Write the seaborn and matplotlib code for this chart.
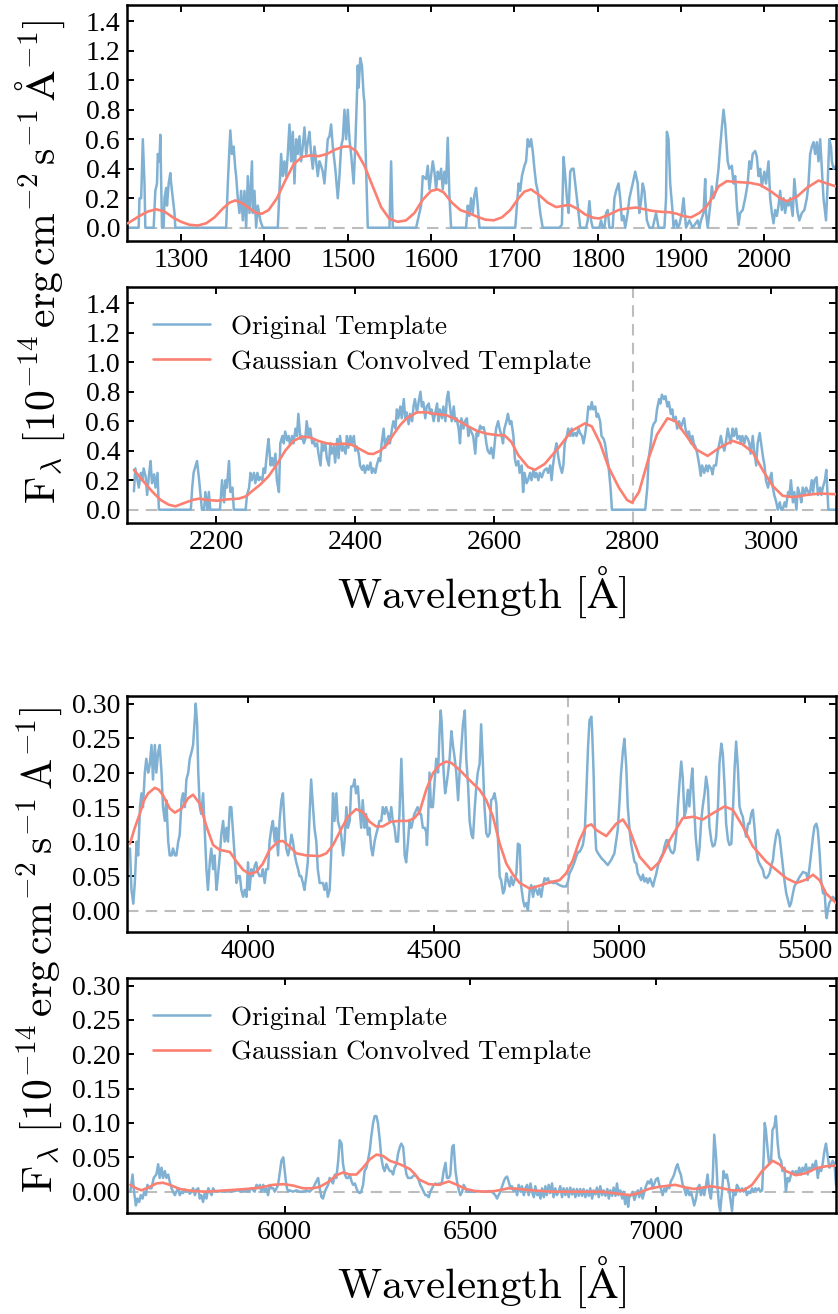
import matplotlib
matplotlib.use("Agg")
import matplotlib.pyplot as plt
import seaborn as sns

# ---------------- data ----------------
# Panel 1 : original template
P1_WAVE = [1236,1249,1250,1252,1254,1256,1257,1267,1269,1271,1272,1274,1275,1276,1277,1279,1280,1282,1283,1285,
           1287,1288,1290,1292,1293,1354,1356,1359,1361,1363,1365,1366,1368,1370,1372,1374,1376,1378,1380,1382,
           1385,1386,1388,1390,1392,1395,1398,1416,1420,1422,1424,1426,1428,1430,1432,1434,1436,1438,1440,1442,
           1444,1446,1448,1450,1452,1454,1456,1458,1460,1462,1464,1466,1468,1470,1472,1474,1476,1478,1480,1482,
           1485,1488,1490,1492,1494,1496,1498,1500,1502,1504,1507,1509,1511,1512,1513,1515,1517,1519,1520,1521,
           1524,1550,1552,1554,1582,1584,1588,1590,1594,1596,1598,1602,1604,1606,1608,1610,1612,1614,1616,1618,
           1620,1622,1624,1642,1644,1646,1648,1650,1652,1654,1656,1658,1701,1705,1707,1709,1712,1714,1716,1718,
           1720,1722,1724,1726,1728,1731,1734,1754,1757,1759,1761,1763,1765,1767,1769,1771,1773,1775,1777,1779,
           1786,1788,1790,1792,1794,1802,1804,1806,1808,1810,1812,1814,1818,1820,1822,1825,1827,1829,1831,1833,
           1836,1838,1840,1842,1845,1848,1850,1852,1854,1856,1859,1862,1866,1868,1870,1873,1880,1882,1883,1885,
           1887,1890,1891,1894,1896,1898,1901,1903,1906,1910,1914,1920,1922,1924,1927,1929,1930,1932,1935,1937,
           1939,1942,1945,1947,1949,1951,1953,1956,1958,1961,1963,1965,1967,1969,1971,1974,1977,1980,1982,1984,
           1986,1989,1991,1993,1995,1997,2000,2002,2005,2007,2009,2011,2013,2015,2017,2019,2021,2023,2025,2027,
           2029,2031,2034,2036,2038,2040,2042,2045,2048,2051,2053,2055,2057,2059,2061,2063,2065,2067,2069,2071,
           2074,2076,2078,2080,2081,2083,2086]
P1_FLUX = [0,0,0.2,0.2,0.6,0.3,0,0,0.25,0.3,0.5,0.45,0.63,0.3,0,0,0.2,0.27,0.15,0.3,
           0.37,0.3,0.2,0.1,0,0,0.3,0.66,0.5,0.55,0.4,0.35,0.2,0.1,0.25,0.05,0.25,0,0.35,0.1,
           0.45,0.1,0.25,0,0.15,0.05,0,0,0.5,0.35,0.45,0.35,0.5,0.7,0.45,0.65,0.3,0.6,0.5,0.62,
           0.45,0.55,0.68,0.5,0.58,0.65,0.5,0.4,0.55,0.45,0.35,0.45,0.42,0.38,0.3,0.45,0.6,0.62,0.7,0.55,
           0.4,0.2,0.35,0.55,0.6,0.8,0.6,0.8,0.6,0.5,0.3,0.55,0.9,1.1,0.95,1.15,1.1,0.9,0.85,0.6,
           0,0,0.45,0,0,0.05,0.15,0.35,0.33,0.42,0.26,0.45,0.38,0.26,0.38,0.33,0.4,0.26,0.38,0.3,
           0.61,0.22,0,0,0.15,0.08,0.2,0.1,0.22,0.27,0.15,0,0,0.3,0.25,0.35,0.42,0.45,0.6,0.55,
           0.6,0.52,0.4,0.3,0.25,0.1,0,0,0.02,0.48,0.35,0.2,0.1,0.38,0.4,0.4,0.3,0.2,0.1,0,
           0,0.05,0.18,0.05,0,0,0.05,0,0,0.1,0.12,0,0,0.2,0.25,0.3,0.2,0.05,0.08,0,
           0.1,0.2,0.25,0.3,0.38,0.3,0.1,0.18,0.3,0.25,0.05,0,0,0.05,0.1,0,0,0.2,0.65,0.6,
           0.3,0.1,0,0.05,0,0.02,0.1,0.2,0,0.05,0,0.05,0,0.05,0.1,0.33,0.1,0,0.15,0.28,
           0.2,0.25,0.4,0.55,0.68,0.8,0.7,0.45,0.4,0.42,0.3,0.35,0.15,0.02,0.1,0.12,0.2,0.3,0.45,0.4,
           0.5,0.52,0.48,0.35,0.4,0.28,0.38,0.3,0.45,0.2,0.1,0.03,0.12,0.08,0.15,0.25,0.12,0.2,0.1,0.18,
           0.15,0.2,0.08,0.33,0.2,0.1,0.05,0.1,0.12,0.2,0.3,0.5,0.55,0.58,0.5,0.58,0.45,0.6,0.4,0.2,
           0.05,0.3,0.6,0.55,0.45,0.4,0.42]
# Panel 1 : Gaussian convolved template
P1_CONV_WAVE = [1236,1250,1260,1270,1280,1290,1300,1310,1320,1330,1340,1350,1358,1365,1372,1380,1390,1397,1405,1415,
                1425,1435,1445,1455,1465,1475,1485,1495,1502,1510,1520,1530,1540,1550,1560,1570,1580,1590,1600,1608,
                1615,1625,1635,1645,1655,1665,1675,1685,1695,1705,1712,1720,1730,1740,1750,1760,1766,1775,1785,1795,
                1802,1814,1825,1835,1846,1856,1866,1876,1886,1895,1902,1912,1922,1930,1935,1945,1955,1967,1983,1995,
                2007,2019,2027,2039,2051,2065,2075,2086]
P1_CONV_FLUX = [0.03,0.08,0.11,0.125,0.11,0.07,0.04,0.02,0.015,0.03,0.07,0.13,0.17,0.185,0.17,0.14,0.1,0.095,0.12,0.2,
                0.32,0.43,0.48,0.49,0.485,0.5,0.53,0.55,0.55,0.52,0.42,0.28,0.14,0.06,0.04,0.05,0.1,0.19,0.25,0.26,
                0.24,0.17,0.12,0.1,0.075,0.055,0.05,0.07,0.12,0.2,0.245,0.26,0.22,0.17,0.14,0.15,0.155,0.13,0.09,0.067,
                0.063,0.09,0.12,0.13,0.137,0.125,0.114,0.108,0.105,0.095,0.08,0.07,0.1,0.14,0.18,0.28,0.316,0.31,0.304,0.29,
                0.25,0.2,0.18,0.21,0.27,0.32,0.3,0.28]

# Panel 2 : original template
P2_WAVE = [2081,2083,2086,2088,2091,2093,2095,2098,2100,2103,2105,2107,2110,2112,2115,2117,2163,2165,2167,2170,
           2172,2175,2177,2179,2182,2184,2187,2189,2191,2205,2208,2211,2213,2215,2218,2220,2223,2225,2242,2244,
           2247,2249,2251,2254,2256,2259,2261,2263,2266,2268,2270,2273,2275,2278,2280,2282,2285,2287,2290,2292,
           2295,2297,2299,2302,2304,2306,2309,2311,2314,2316,2318,2321,2323,2326,2328,2330,2333,2335,2338,2340,
           2342,2345,2347,2350,2352,2354,2357,2359,2362,2364,2366,2369,2371,2374,2376,2378,2381,2383,2386,2388,
           2390,2393,2395,2398,2400,2402,2405,2407,2410,2412,2414,2417,2419,2422,2424,2426,2429,2431,2434,2436,
           2438,2441,2443,2446,2448,2450,2453,2455,2458,2460,2462,2465,2467,2470,2472,2474,2477,2479,2482,2484,
           2486,2489,2491,2494,2496,2498,2501,2503,2506,2508,2510,2513,2515,2518,2520,2522,2525,2527,2530,2532,
           2534,2537,2539,2542,2544,2546,2549,2551,2553,2556,2558,2561,2563,2565,2570,2573,2575,2577,2580,2582,
           2585,2587,2589,2591,2594,2596,2599,2601,2603,2606,2608,2611,2613,2615,2618,2620,2623,2625,2628,2630,
           2632,2635,2637,2640,2642,2644,2647,2649,2652,2654,2657,2659,2661,2664,2666,2669,2671,2673,2676,2678,
           2681,2683,2685,2688,2690,2693,2695,2698,2700,2702,2705,2707,2710,2712,2714,2717,2719,2722,2724,2727,
           2729,2731,2734,2736,2739,2741,2743,2746,2748,2750,2753,2755,2758,2760,2763,2765,2768,2770,2818,2821,
           2823,2826,2828,2830,2833,2835,2838,2840,2842,2845,2847,2850,2852,2855,2857,2859,2862,2864,2867,2869,
           2871,2874,2876,2879,2881,2884,2886,2888,2891,2893,2896,2898,2900,2903,2906,2908,2910,2913,2915,2917,
           2920,2922,2925,2927,2929,2932,2934,2937,2939,2941,2944,2946,2949,2951,2954,2956,2958,2961,2963,2966,
           2968,2970,2973,2975,2978,2980,2983,2985,2988,2990,2992,2995,2997,3000,3002,3004,3007,3009,3012,3014,
           3016,3019,3021,3024,3026,3028,3031,3033,3036,3038,3041,3043,3045,3048,3050,3053,3055,3058,3060,3062,
           3065,3067,3070,3072,3074,3077,3079,3082,3093]
P2_FLUX = [0.125,0.28,0.2,0.15,0.25,0.2,0.28,0.22,0.1,0.25,0.33,0.18,0.24,0.15,0.25,0,0,0.15,0.25,0.3,
           0.33,0.2,0.1,0,0,0.12,0,0.12,0,0,0.2,0.05,0.2,0.15,0.33,0.12,0.15,0,0,0.1,
           0.15,0.25,0.2,0.25,0.18,0.25,0.2,0.22,0.2,0.28,0.25,0.4,0.48,0.3,0.35,0.3,0.38,0.2,0.12,0.45,
           0.5,0.45,0.53,0.47,0.5,0.44,0.5,0.45,0.55,0.5,0.65,0.48,0.5,0.45,0.48,0.6,0.5,0.55,0.45,0.48,
           0.43,0.45,0.38,0.3,0.45,0.4,0.45,0.35,0.3,0.45,0.38,0.43,0.32,0.48,0.35,0.5,0.4,0.43,0.38,0.5,
           0.42,0.5,0.45,0.5,0.4,0.43,0.38,0.3,0.27,0.3,0.25,0.3,0.27,0.32,0.25,0.28,0.25,0.3,0.35,0.33,
           0.45,0.55,0.42,0.48,0.5,0.45,0.55,0.6,0.55,0.68,0.62,0.7,0.62,0.75,0.62,0.66,0.58,0.65,0.6,0.7,
           0.75,0.66,0.72,0.8,0.7,0.73,0.62,0.7,0.72,0.65,0.68,0.6,0.65,0.72,0.6,0.68,0.62,0.7,0.6,0.75,
           0.8,0.68,0.6,0.7,0.6,0.62,0.55,0.45,0.62,0.55,0.6,0.62,0.5,0.55,0.5,0.38,0.52,0.5,0.57,0.55,
           0.56,0.52,0.45,0.4,0.38,0.42,0.35,0.45,0.55,0.6,0.55,0.5,0.45,0.55,0.6,0.65,0.58,0.6,0.5,0.35,
           0.3,0.33,0.25,0.3,0.12,0.25,0.18,0.2,0.25,0.2,0.27,0.22,0.25,0.2,0.25,0.22,0.25,0.27,0.28,0.25,
           0.3,0.2,0.3,0.4,0.45,0.35,0.3,0.25,0.3,0.45,0.5,0.55,0.5,0.55,0.5,0.52,0.5,0.55,0.52,0.5,
           0.45,0.5,0.6,0.7,0.68,0.73,0.68,0.7,0.63,0.65,0.6,0.5,0.48,0.45,0.35,0.3,0.15,0,0,0.15,
           0.35,0.45,0.55,0.58,0.6,0.68,0.75,0.72,0.78,0.75,0.77,0.7,0.73,0.65,0.68,0.6,0.63,0.55,0.6,0.55,
           0.58,0.62,0.55,0.5,0.53,0.45,0.5,0.45,0.42,0.38,0.3,0.23,0.3,0.25,0.3,0.26,0.3,0.28,0.24,0.3,
           0.3,0.38,0.45,0.5,0.45,0.4,0.45,0.55,0.5,0.45,0.55,0.5,0.55,0.48,0.5,0.45,0.5,0.45,0.5,0.48,
           0.45,0.38,0.5,0.4,0.3,0.45,0.52,0.45,0.35,0.3,0.2,0.15,0.2,0.25,0.15,0.1,0.05,0,0.05,0,
           0,0.05,0.02,0.12,0.1,0.2,0.05,0.12,0,0.15,0.1,0.05,0.15,0.1,0.15,0.12,0.1,0.2,0.12,0.2,
           0.22,0.1,0.15,0.1,0.15,0.2,0.27,0,0]
# Panel 2 : Gaussian convolved template
P2_CONV_WAVE = [2081,2095,2107,2119,2131,2141,2153,2167,2175,2187,2201,2215,2232,2242,2251,2263,2275,2287,2299,2311,
                2323,2335,2347,2359,2371,2383,2395,2407,2419,2426,2436,2446,2455,2465,2474,2489,2503,2518,2532,2546,
                2561,2575,2590,2606,2615,2625,2635,2649,2659,2673,2693,2712,2731,2741,2753,2765,2780,2792,2799,2809,
                2823,2835,2850,2862,2876,2891,2908,2925,2944,2958,2973,2988,3002,3016,3031,3050,3070,3093]
P2_CONV_FLUX = [0.27,0.19,0.125,0.068,0.034,0.023,0.045,0.068,0.075,0.066,0.061,0.07,0.075,0.09,0.125,0.17,0.227,0.307,0.4,0.466,
                0.495,0.49,0.466,0.45,0.443,0.448,0.44,0.41,0.38,0.378,0.4,0.443,0.51,0.575,0.62,0.66,0.66,0.648,0.64,0.61,
                0.57,0.535,0.515,0.505,0.505,0.46,0.37,0.29,0.27,0.31,0.42,0.535,0.585,0.565,0.45,0.29,0.15,0.065,0.048,0.12,
                0.35,0.51,0.62,0.6,0.51,0.41,0.365,0.42,0.467,0.444,0.39,0.263,0.16,0.095,0.085,0.1,0.11,0.105]

# Panel 3 : original template
P3_WAVE = [3682,3686,3691,3695,3700,3704,3709,3713,3717,3722,3726,3731,3735,3740,3744,3749,3753,3758,3762,3767,
           3771,3776,3780,3785,3789,3794,3798,3803,3807,3812,3816,3821,3825,3830,3834,3839,3843,3848,3852,3857,
           3859,3863,3866,3870,3874,3879,3883,3888,3892,3897,3901,3906,3910,3915,3919,3924,3928,3933,3937,3942,
           3946,3951,3955,3960,3964,3969,3973,3978,3982,3987,3991,3996,4000,4004,4009,4013,4018,4022,4027,4031,
           4036,4040,4045,4049,4054,4058,4063,4067,4072,4076,4081,4085,4090,4094,4099,4103,4108,4112,4117,4121,
           4126,4130,4135,4139,4143,4148,4152,4157,4161,4166,4170,4175,4179,4184,4188,4193,4197,4202,4206,4211,
           4215,4220,4224,4229,4233,4238,4242,4247,4251,4256,4260,4265,4269,4274,4278,4283,4287,4291,4296,4300,
           4305,4309,4314,4318,4323,4327,4332,4336,4341,4345,4350,4354,4359,4363,4368,4372,4377,4381,4386,4390,
           4395,4399,4404,4408,4413,4417,4422,4426,4431,4435,4440,4448,4457,4462,4466,4471,4476,4480,4482,4485,
           4489,4493,4498,4503,4507,4512,4516,4519,4522,4527,4531,4534,4539,4543,4548,4552,4557,4561,4566,4570,
           4575,4579,4584,4588,4593,4597,4602,4606,4611,4615,4619,4624,4628,4633,4637,4642,4646,4651,4655,4660,
           4664,4669,4673,4678,4682,4687,4691,4696,4700,4705,4709,4714,4718,4723,4727,4732,4736,4741,4745,4750,
           4754,4759,4763,4768,4772,4776,4781,4785,4790,4794,4799,4803,4808,4812,4817,4821,4830,4839,4848,4857,
           4862,4866,4871,4875,4880,4884,4889,4893,4898,4902,4907,4911,4916,4920,4925,4927,4931,4934,4938,4943,
           4952,4961,4969,4978,4987,4996,5001,5005,5010,5014,5019,5023,5028,5032,5037,5041,5046,5050,5055,5059,
           5064,5068,5073,5077,5082,5086,5091,5095,5100,5104,5109,5113,5118,5122,5127,5131,5136,5140,5145,5149,
           5154,5158,5163,5167,5171,5176,5180,5185,5189,5194,5197,5200,5206,5212,5216,5221,5225,5230,5234,5239,
           5243,5248,5252,5257,5261,5266,5270,5275,5279,5284,5288,5293,5297,5302,5306,5311,5315,5320,5324,5329,
           5333,5338,5342,5347,5351,5356,5360,5365,5369,5374,5378,5382,5387,5391,5396,5400,5405,5409,5414,5418,
           5423,5427,5432,5436,5441,5445,5450,5459,5463,5468,5472,5477,5486,5495,5504,5508,5513,5517,5522,5526,
           5531,5535,5540,5544,5549,5553,5557,5559,5562,5566,5575,5584]
P3_FLUX = [0.09,0.03,0.01,0.04,0.1,0.08,0.15,0.17,0.15,0.2,0.22,0.2,0.21,0.24,0.19,0.24,0.2,0.23,0.24,0.2,
           0.15,0.13,0.16,0.1,0.08,0.08,0.09,0.08,0.08,0.1,0.11,0.16,0.17,0.15,0.19,0.2,0.22,0.23,0.24,0.28,
           0.3,0.27,0.2,0.15,0.14,0.17,0.12,0.06,0.03,0.07,0.09,0.06,0.08,0.03,0.05,0.08,0.11,0.13,0.1,0.12,
           0.1,0.15,0.15,0.11,0.08,0.04,0.05,0.05,0.03,0.02,0.03,0.02,0.07,0.03,0.06,0.05,0.065,0.07,0.055,0.05,
           0.05,0.06,0.04,0.06,0.06,0.1,0.12,0.13,0.1,0.12,0.08,0.13,0.16,0.17,0.12,0.09,0.08,0.09,0.11,0.1,
           0.08,0.07,0.06,0.05,0.05,0.04,0.03,0.05,0.07,0.14,0.19,0.15,0.12,0.1,0.06,0.04,0.04,0.04,0.03,0.04,
           0.02,0.03,0.08,0.17,0.13,0.17,0.13,0.12,0.11,0.08,0.1,0.15,0.12,0.13,0.18,0.18,0.19,0.17,0.18,0.15,
           0.12,0.16,0.12,0.14,0.11,0.12,0.09,0.08,0.1,0.11,0.12,0.13,0.13,0.15,0.14,0.15,0.14,0.13,0.15,0.13,
           0.12,0.1,0.1,0.14,0.22,0.16,0.08,0.07,0.1,0.13,0.12,0.14,0.15,0.14,0.14,0.12,0.12,0.114,0.095,0.13,
           0.2,0.15,0.15,0.19,0.22,0.2,0.26,0.29,0.27,0.2,0.17,0.18,0.2,0.22,0.26,0.24,0.22,0.2,0.16,0.2,
           0.24,0.27,0.29,0.22,0.18,0.13,0.11,0.105,0.15,0.18,0.2,0.213,0.27,0.21,0.151,0.112,0.107,0.112,0.16,0.163,
           0.17,0.155,0.107,0.049,0.044,0.025,0.03,0.054,0.044,0.035,0.049,0.037,0.044,0.054,0.097,0.095,0.035,0.015,0.006,0.011,
           0.001,0.03,0.037,0.02,0.035,0.03,0.023,0.032,0.02,0.035,0.047,0.044,0.047,0.04,0.042,0.04,0.04,0.037,0.035,0.035,
           0.042,0.054,0.059,0.064,0.071,0.078,0.085,0.085,0.09,0.095,0.112,0.165,0.237,0.276,0.281,0.261,0.199,0.126,0.088,0.083,
           0.076,0.071,0.066,0.073,0.083,0.117,0.16,0.199,0.232,0.249,0.208,0.151,0.117,0.097,0.083,0.071,0.068,0.054,0.049,0.044,
           0.052,0.042,0.047,0.04,0.047,0.042,0.035,0.044,0.054,0.064,0.073,0.078,0.083,0.093,0.102,0.102,0.09,0.085,0.083,0.088,
           0.112,0.151,0.189,0.216,0.194,0.136,0.146,0.175,0.151,0.189,0.206,0.17,0.107,0.073,0.088,0.131,0.151,0.17,0.194,0.175,
           0.122,0.102,0.093,0.095,0.107,0.151,0.213,0.242,0.228,0.179,0.126,0.102,0.095,0.097,0.141,0.208,0.245,0.204,0.151,0.141,
           0.136,0.117,0.107,0.126,0.126,0.141,0.146,0.117,0.088,0.073,0.068,0.064,0.059,0.049,0.047,0.049,0.054,0.064,0.073,0.093,
           0.11,0.117,0.107,0.088,0.064,0.044,0.025,0.006,0.011,0.025,0.035,0.04,0.049,0.056,0.054,0.044,0.064,0.083,0.107,0.122,
           0.126,0.117,0.083,0.044,0.025,0.03,-0.004,-0.011,0.001,0.011,0.02,0.015]
# Panel 3 : Gaussian convolved template
P3_CONV_WAVE = [3682,3695,3709,3720,3731,3749,3760,3771,3789,3803,3821,3839,3852,3870,3888,3906,3924,3951,3969,3987,
                4004,4022,4040,4058,4081,4094,4112,4130,4157,4193,4211,4229,4247,4269,4291,4309,4327,4345,4363,4386,
                4408,4431,4448,4462,4480,4498,4516,4534,4548,4570,4597,4624,4642,4660,4678,4696,4714,4732,4759,4785,
                4812,4839,4857,4875,4893,4911,4925,4938,4965,4992,5010,5028,5055,5086,5109,5136,5171,5200,5225,5252,
                5284,5306,5333,5360,5396,5423,5450,5477,5504,5522,5540,5557,5584]
P3_CONV_FLUX = [0.097,0.12,0.141,0.16,0.17,0.178,0.175,0.167,0.148,0.142,0.148,0.163,0.168,0.155,0.122,0.095,0.088,0.085,0.071,0.059,
                0.053,0.056,0.068,0.088,0.1,0.101,0.093,0.083,0.08,0.079,0.083,0.095,0.114,0.136,0.147,0.143,0.129,0.122,0.122,0.129,
                0.13,0.13,0.134,0.143,0.175,0.199,0.211,0.216,0.214,0.204,0.189,0.175,0.16,0.136,0.097,0.068,0.052,0.04,0.032,0.036,
                0.041,0.044,0.054,0.073,0.102,0.122,0.125,0.117,0.108,0.126,0.132,0.117,0.078,0.059,0.071,0.102,0.134,0.136,0.132,0.141,
                0.151,0.146,0.122,0.093,0.071,0.059,0.047,0.04,0.045,0.052,0.044,0.025,0.011]

# Panel 4 : original template
P4_WAVE = [5584,5590,5594,5599,5603,5608,5612,5617,5621,5626,5630,5635,5641,5647,5654,5659,5663,5668,5672,5677,
           5681,5686,5690,5695,5699,5704,5708,5713,5717,5722,5726,5731,5735,5740,5744,5749,5753,5758,5762,5767,
           5771,5775,5780,5785,5789,5794,5798,5803,5807,5812,5820,5829,5838,5847,5856,5865,5874,5883,5892,5901,
           5910,5919,5924,5928,5933,5937,5942,5946,5951,5955,5960,5964,5969,5973,5978,5982,5987,5991,5996,5998,
           6003,6006,6009,6013,6022,6031,6040,6049,6058,6067,6076,6085,6090,6094,6099,6103,6108,6112,6117,6121,
           6126,6130,6135,6139,6144,6148,6153,6157,6162,6166,6171,6175,6180,6184,6189,6193,6197,6202,6206,6211,
           6215,6220,6224,6229,6233,6238,6242,6247,6251,6256,6260,6265,6269,6274,6278,6283,6287,6292,6296,6301,
           6305,6310,6314,6319,6323,6328,6332,6341,6350,6359,6365,6370,6374,6379,6383,6388,6392,6397,6401,6406,
           6411,6415,6419,6424,6428,6433,6437,6442,6446,6451,6455,6460,6464,6469,6473,6478,6482,6487,6491,6496,
           6504,6513,6522,6531,6540,6549,6558,6567,6572,6576,6581,6590,6594,6599,6603,6608,6612,6617,6621,6626,
           6630,6635,6639,6644,6648,6653,6657,6662,6666,6671,6675,6680,6684,6689,6693,6698,6702,6706,6711,6715,
           6720,6724,6729,6733,6738,6742,6747,6751,6756,6760,6765,6769,6774,6778,6783,6787,6792,6796,6801,6805,
           6810,6814,6819,6823,6828,6832,6837,6841,6846,6850,6855,6859,6864,6869,6873,6877,6882,6886,6891,6895,
           6899,6904,6909,6913,6917,6922,6925,6928,6933,6937,6942,6946,6951,6955,6960,6964,6969,6973,6978,6982,
           6987,6991,6996,7000,7005,7009,7013,7018,7023,7027,7031,7036,7040,7045,7049,7054,7058,7063,7067,7072,
           7076,7081,7085,7090,7094,7099,7103,7108,7112,7117,7121,7126,7130,7135,7139,7144,7148,7153,7157,7162,
           7166,7170,7173,7178,7182,7187,7191,7196,7200,7205,7209,7214,7218,7223,7227,7232,7236,7241,7245,7250,
           7254,7259,7263,7268,7272,7277,7281,7286,7290,7293,7296,7301,7305,7310,7314,7319,7323,7328,7332,7337,
           7341,7346,7350,7355,7359,7364,7368,7373,7377,7382,7386,7391,7395,7400,7404,7409,7413,7418,7422,7427,
           7431,7436,7440,7445,7449,7454,7458,7463,7467,7472,7476,7481,7485]
P4_FLUX = [0.0,0.025,0.0,-0.02,-0.01,-0.015,-0.005,-0.01,0.0,-0.005,0.01,0.005,0.005,0.02,0.025,0.04,0.02,0.035,0.02,0.03,
           0.02,0.025,0.015,0.005,0.0,-0.005,0.0,0.005,-0.005,0.0,-0.002,0.003,0.0,0.002,-0.003,0.0,0.005,-0.005,0.003,0.005,
           -0.01,-0.005,-0.015,0.0,-0.01,0.005,0.0,-0.005,0.005,0.0,0.0,0.001,0.0,0.002,0.0,0.001,0.002,0.0,0.002,0.0,
           0.005,0.0,0.01,0.005,0.01,0.0,0.01,0.0,0.005,-0.005,0.01,0.005,0.005,0.0,0.005,0.01,0.03,0.045,0.05,0.04,
           0.015,0.005,0.0,0.002,0.0,0.002,0.0,0.0,0.002,0.0,0.005,0.015,0.02,0.005,-0.008,-0.01,0.0,0.005,0.01,0.02,
           0.015,0.012,0.025,0.02,0.045,0.075,0.07,0.04,0.025,0.02,0.02,0.025,0.015,0.01,0.012,0.005,0.0,-0.002,0.0,0.01,
           0.03,0.035,0.045,0.06,0.08,0.1,0.11,0.11,0.1,0.075,0.05,0.035,0.03,0.04,0.035,0.03,0.03,0.025,0.035,0.04,
           0.055,0.065,0.07,0.065,0.04,0.025,0.02,0.02,0.025,0.02,0.01,0.005,0.0,-0.005,-0.005,-0.008,0.0,0.005,0.01,0.012,
           0.01,0.012,0.01,0.015,0.03,0.042,0.02,0.02,0.025,0.065,0.068,0.03,0.015,0.002,-0.005,0.0,0.01,0.005,0.0,0.0,
           0.0,0.0,0.001,0.0,0.0,0.001,0.0,-0.005,-0.01,-0.005,0.0,0.015,0.02,0.022,0.015,0.005,0.008,0.0,0.005,-0.005,
           0.01,0.0,0.008,-0.005,0.005,0.01,-0.005,0.012,0.0,-0.008,0.008,-0.005,0.0,-0.01,0.005,-0.008,0.008,-0.005,0.01,-0.002,
           0.012,-0.008,0.005,-0.005,0.0,0.008,-0.008,0.005,-0.005,0.005,-0.008,0.006,-0.004,0.004,-0.008,0.004,-0.006,0.004,-0.006,0.004,
           -0.008,0.002,-0.006,0.005,-0.01,0.002,-0.004,0.006,-0.008,0.008,-0.005,0.002,-0.006,0.004,-0.01,0.002,-0.006,0.006,-0.006,0.012,
           -0.005,0.002,-0.01,0.0,-0.018,-0.005,-0.022,-0.008,-0.005,0.0,-0.012,-0.005,0.002,-0.008,0.005,-0.01,0.0,0.008,0.015,0.012,
           0.018,0.005,0.012,0.018,0.02,0.01,0.005,-0.005,0.005,0.0,0.008,0.005,0.015,0.02,0.025,0.035,0.04,0.03,0.025,0.01,
           0.005,-0.005,0.005,-0.005,0.0,-0.01,-0.02,-0.01,0.005,0.01,-0.005,0.005,-0.005,0.01,0.025,0.0,-0.01,0.02,0.083,0.05,
           0.005,-0.02,-0.028,0.0,0.03,0.02,0.025,0.01,-0.01,-0.028,0.0,-0.005,0.01,0.005,0.0,0.005,0.0,0.005,-0.005,0.0,
           -0.002,0.005,0.0,0.005,0.002,0.005,0.0,0.002,0.05,0.1,0.09,0.06,0.04,0.045,0.09,0.095,0.11,0.07,0.05,0.045,
           0.03,0.035,0.0,0.02,0.015,0.025,0.03,0.025,0.03,0.025,0.035,0.025,0.035,0.03,0.04,0.025,0.035,0.03,0.04,0.035,
           0.045,0.02,0.035,0.03,0.04,0.06,0.07,0.05,0.035,0.04,0.045,0.04,0.01]
# Panel 4 : Gaussian convolved template
P4_CONV_WAVE = [5584,5600,5614,5632,5654,5672,5690,5717,5753,5789,5843,5897,5933,5969,5996,6022,6049,6076,6094,6117,
                6139,6157,6175,6193,6211,6229,6247,6265,6283,6310,6337,6350,6361,6388,6415,6442,6464,6487,6513,6540,
                6567,6603,6630,6666,6720,6765,6810,6855,6899,6931,6953,6980,7007,7052,7081,7103,7148,7169,7205,7236,
                7259,7286,7314,7332,7350,7377,7404,7431,7458,7485]
P4_CONV_FLUX = [0.01,0.005,0.002,0.006,0.012,0.013,0.01,0.004,0.001,0.0,0.002,0.004,0.006,0.01,0.011,0.009,0.005,0.005,0.007,0.014,
                0.024,0.028,0.025,0.025,0.035,0.047,0.054,0.052,0.045,0.04,0.033,0.026,0.018,0.011,0.01,0.015,0.01,0.004,0.001,0.0,
                0.001,0.005,0.004,0.002,0.0,0.0,0.0,0.0,-0.003,-0.005,-0.002,0.004,0.007,0.01,0.006,0.004,0.008,0.006,0.002,0.002,
                0.01,0.03,0.045,0.04,0.03,0.024,0.027,0.034,0.037,0.038]

LINE_WAVE = {"top": 2800, "bottom": 4861}
XTICKS_TOP1 = [1300, 1400, 1500, 1600, 1700, 1800, 1900, 2000]
XTICKS_TOP2 = [2200, 2400, 2600, 2800, 3000]
XTICKS_BOT1 = [4000, 4500, 5000, 5500]
XTICKS_BOT2 = [6000, 6500, 7000]
YTICKS_TOP = [0.0, 0.2, 0.4, 0.6, 0.8, 1.0, 1.2, 1.4]
YTICKS_BOT = [0.0, 0.05, 0.10, 0.15, 0.20, 0.25, 0.30]
LABEL_ORIG = r"$\mathrm{Original\ Template}$"
LABEL_CONV = r"$\mathrm{Gaussian\ Convolved\ Template}$"
YLABEL_TOP = r"$\mathrm{F_{\lambda}\ [10^{-14}\,erg\,cm^{-2}\,s^{-1}\,\AA^{-1}]}$"
YLABEL_BOT = r"$\mathrm{F_{\lambda}\ [10^{-14}\,erg\,cm^{-2}\,s^{-1}\,A^{-1}]}$"
XLABEL = r"$\mathrm{Wavelength\ [\AA]}$"

# ---------------- style ----------------
sns.set_theme(style="ticks")
plt.rcParams["font.family"] = "serif"
plt.rcParams["font.serif"] = ["Liberation Serif", "DejaVu Serif"]
plt.rcParams.update({
    "mathtext.fontset": "cm",
    "text.color": "black", "axes.labelcolor": "black",
    "xtick.direction": "in", "ytick.direction": "in",
    "xtick.top": True, "ytick.right": True,
    "xtick.major.size": 5, "ytick.major.size": 5,
    "xtick.major.width": 1.4, "ytick.major.width": 1.4,
    "xtick.major.pad": 5, "ytick.major.pad": 5,
    "xtick.labelsize": 20, "ytick.labelsize": 20,
    "axes.linewidth": 1.8, "axes.edgecolor": "black",
    "xtick.color": "black", "ytick.color": "black",
    "legend.labelcolor": "black",
})

BLUE = "#80b1d3"
RED = "#fb8072"
GRAY = "#bdbdbd"
TICKFONT = "Liberation Serif"

W, H = 838, 1314
fig = plt.figure(figsize=(W / 100, H / 100), dpi=100)


def rect(top, bottom, left=127, right=836):
    return [left / W, 1 - bottom / H, (right - left) / W, (bottom - top) / H]


panels = [
    dict(r=rect(5, 241), wave=P1_WAVE, flux=P1_FLUX, cw=P1_CONV_WAVE, cf=P1_CONV_FLUX,
         xlim=(1235, 2086), ylim=(-0.09, 1.51), xt=XTICKS_TOP1, yt=YTICKS_TOP, fmt="{:.1f}", vline=None, legend=False, xlabel=False),
    dict(r=rect(287, 523), wave=P2_WAVE, flux=P2_FLUX, cw=P2_CONV_WAVE, cf=P2_CONV_FLUX,
         xlim=(2071, 3093), ylim=(-0.09, 1.51), xt=XTICKS_TOP2, yt=YTICKS_TOP, fmt="{:.1f}", vline=LINE_WAVE["top"], legend=True, xlabel=True),
    dict(r=rect(696, 932), wave=P3_WAVE, flux=P3_FLUX, cw=P3_CONV_WAVE, cf=P3_CONV_FLUX,
         xlim=(3674, 5584), ylim=(-0.031, 0.311), xt=XTICKS_BOT1, yt=YTICKS_BOT, fmt="{:.2f}", vline=LINE_WAVE["bottom"], legend=False, xlabel=False),
    dict(r=rect(978, 1213), wave=P4_WAVE, flux=P4_FLUX, cw=P4_CONV_WAVE, cf=P4_CONV_FLUX,
         xlim=(5575, 7485), ylim=(-0.031, 0.311), xt=XTICKS_BOT2, yt=YTICKS_BOT, fmt="{:.2f}", vline=None, legend=True, xlabel=True),
]

for p in panels:
    ax = fig.add_axes(p["r"])
    ax.axhline(0, color=GRAY, lw=1.5, dashes=(5.5, 3.5), zorder=1)
    if p["vline"] is not None:
        ax.axvline(p["vline"], color=GRAY, lw=1.5, dashes=(5.5, 3.5), zorder=1)
    sns.lineplot(x=p["wave"], y=p["flux"], ax=ax, color=BLUE, lw=1.8, sort=False, estimator=None,
                 label=LABEL_ORIG if p["legend"] else None, zorder=2)
    sns.lineplot(x=p["cw"], y=p["cf"], ax=ax, color=RED, lw=1.9, sort=False, estimator=None,
                 label=LABEL_CONV if p["legend"] else None, zorder=3)
    ax.set_xlim(*p["xlim"])
    ax.set_ylim(*p["ylim"])
    ax.set_xticks(p["xt"])
    ax.set_xticklabels([str(v) for v in p["xt"]], fontfamily=TICKFONT, fontsize=20, color="black")
    ax.set_yticks(p["yt"])
    ax.set_yticklabels([p["fmt"].format(v) for v in p["yt"]], fontfamily=TICKFONT, fontsize=20, color="black")
    ax.tick_params(which="both", top=True, right=True, labelright=False, labeltop=False)
    for s in ax.spines.values():
        s.set_linewidth(1.8)
        s.set_color("black")
    if p["legend"]:
        ax.legend(loc="upper left", frameon=False, fontsize=19.5, handlelength=2.1,
                  handletextpad=0.75, labelspacing=0.25, borderaxespad=0.5, borderpad=0.45,
                  labelcolor="black")
    if p["xlabel"]:
        ax.set_xlabel(XLABEL, fontsize=31, labelpad=6, color="black")
    else:
        ax.set_xlabel("")
    ax.set_ylabel("")

fig.text(40 / W, 1 - 262 / H, YLABEL_TOP, rotation=90, ha="center", va="center", fontsize=30, color="black")
fig.text(40 / W, 1 - 950 / H, YLABEL_BOT, rotation=90, ha="center", va="center", fontsize=30, color="black")

fig.savefig("out.png", dpi=100)
